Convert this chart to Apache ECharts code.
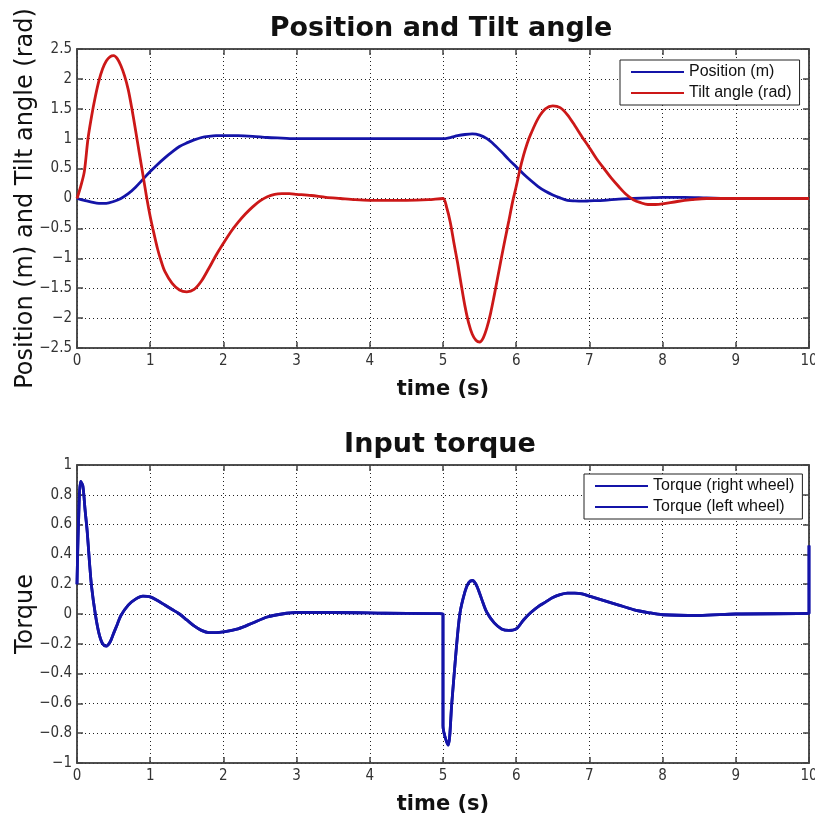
<!DOCTYPE html>
<html>
<head>
<meta charset="utf-8">
<script src="https://cdn.jsdelivr.net/npm/echarts@6/dist/echarts.min.js"></script>
<style>html,body{margin:0;padding:0;background:#fff;overflow:hidden}#c{width:815px;height:820px}</style>
</head>
<body>
<div id="c"></div>
<script>
// ---- data (time in s, value) ----
const xTicks = [0,1,2,3,4,5,6,7,8,9,10];
const position = [
[0,0],[0.1,-0.03],[0.2,-0.06],[0.3,-0.08],[0.4,-0.08],[0.5,-0.05],[0.6,0.0],[0.7,0.08],[0.8,0.19],[0.9,0.32],
[1.0,0.45],[1.1,0.57],[1.2,0.68],[1.3,0.78],[1.4,0.87],[1.5,0.93],[1.6,0.98],[1.7,1.02],[1.8,1.04],[1.9,1.05],
[2.0,1.05],[2.2,1.05],[2.4,1.04],[2.6,1.02],[2.8,1.01],[3.0,1.0],[4.0,1.0],[5.0,1.0],[5.1,1.02],[5.2,1.05],
[5.3,1.07],[5.4,1.08],[5.5,1.06],[5.6,1.0],[5.7,0.9],[5.8,0.78],[5.9,0.65],[6.0,0.53],[6.1,0.41],[6.2,0.3],
[6.3,0.2],[6.4,0.12],[6.5,0.06],[6.6,0.01],[6.7,-0.03],[6.8,-0.04],[6.9,-0.045],[7.0,-0.04],[7.2,-0.03],[7.4,-0.01],
[7.6,0.0],[7.8,0.01],[8.0,0.02],[8.3,0.02],[8.6,0.01],[9.0,0.0],[10,0]
];
const tilt = [
[0,0],[0.05,0.2],[0.1,0.45],[0.15,1.0],[0.2,1.38],[0.25,1.7],[0.3,1.97],[0.35,2.17],[0.4,2.3],[0.45,2.37],
[0.5,2.39],[0.55,2.34],[0.6,2.22],[0.65,2.05],[0.7,1.82],[0.75,1.5],[0.8,1.14],[0.85,0.77],[0.9,0.4],[0.95,0.03],
[1.0,-0.3],[1.05,-0.58],[1.1,-0.84],[1.15,-1.05],[1.2,-1.22],[1.3,-1.42],[1.4,-1.53],[1.5,-1.56],[1.6,-1.52],[1.7,-1.38],
[1.8,-1.17],[1.9,-0.95],[2.0,-0.75],[2.1,-0.56],[2.2,-0.4],[2.3,-0.26],[2.4,-0.14],[2.5,-0.04],[2.6,0.03],[2.7,0.07],
[2.8,0.08],[2.9,0.08],[3.0,0.07],[3.2,0.05],[3.4,0.02],[3.6,0.0],[3.8,-0.02],[4.0,-0.03],[4.5,-0.03],[4.8,-0.02],
[5.0,0],[5.05,-0.15],[5.1,-0.4],[5.15,-0.75],[5.2,-1.08],[5.25,-1.45],[5.3,-1.8],[5.35,-2.08],[5.4,-2.27],[5.45,-2.37],
[5.5,-2.4],[5.55,-2.33],[5.6,-2.16],[5.65,-1.92],[5.7,-1.62],[5.75,-1.3],[5.8,-0.98],[5.85,-0.67],[5.9,-0.37],[5.95,-0.06],
[6.0,0.2],[6.05,0.48],[6.1,0.72],[6.15,0.92],[6.2,1.08],[6.3,1.34],[6.4,1.5],[6.5,1.55],[6.6,1.52],[6.7,1.4],
[6.8,1.22],[6.9,1.03],[7.0,0.85],[7.1,0.66],[7.2,0.5],[7.3,0.34],[7.4,0.2],[7.5,0.07],[7.6,-0.02],[7.7,-0.07],
[7.8,-0.1],[7.9,-0.1],[8.0,-0.09],[8.2,-0.05],[8.4,-0.02],[8.6,0],[9,0],[10,0]
];
const torqueRight = [
[0,0.2],[0.02,0.6],[0.05,0.89],[0.08,0.86],[0.11,0.7],[0.14,0.55],[0.17,0.35],[0.2,0.18],[0.25,0.0],[0.3,-0.13],
[0.35,-0.2],[0.4,-0.215],[0.45,-0.19],[0.5,-0.13],[0.55,-0.07],[0.6,-0.01],[0.7,0.06],[0.8,0.1],[0.9,0.12],[1.0,0.115],
[1.1,0.09],[1.2,0.06],[1.3,0.03],[1.4,0.0],[1.5,-0.04],[1.6,-0.08],[1.7,-0.11],[1.8,-0.125],[1.9,-0.125],[2.0,-0.12],
[2.2,-0.1],[2.4,-0.06],[2.6,-0.02],[2.8,0.0],[3.0,0.01],[3.5,0.01],[4.2,0.005],[5.0,0.0],[5.0,-0.75],[5.07,-0.88],
[5.12,-0.6],[5.17,-0.3],[5.23,0.0],[5.3,0.15],[5.35,0.21],[5.4,0.225],[5.45,0.2],[5.5,0.14],[5.55,0.07],[5.6,0.01],
[5.7,-0.06],[5.8,-0.1],[5.9,-0.11],[6.0,-0.1],[6.1,-0.04],[6.2,0.01],[6.3,0.05],[6.4,0.08],[6.5,0.11],[6.6,0.13],
[6.7,0.14],[6.8,0.14],[6.9,0.135],[7.0,0.12],[7.2,0.09],[7.4,0.06],[7.6,0.03],[7.8,0.01],[8.0,-0.005],[8.5,-0.01],
[9.0,0.0],[10.0,0.005],[10.0,0.46]
];
const torqueLeft = torqueRight.map(p => p.slice());

// ---- styles ----
const BLUE = '#1414a8', RED = '#cc1818', AX = '#444';
const tickFont = "'Liberation Sans Narrow','DejaVu Sans Condensed','Liberation Sans',sans-serif";
const fmt = v => String(Math.round(v*10)/10).replace('-', '\u2212');

function xAx(gi) {
  return [{
    gridIndex: gi, type: 'value', min: 0, max: 10, interval: 1, position: 'bottom',
    name: 'time (s)', nameLocation: 'middle', nameGap: 31, nameMoveOverlap: false,
    nameTextStyle: {fontSize: 21, fontWeight: 'bold', color: '#111', fontFamily: "'DejaVu Sans',sans-serif"},
    axisLine: {onZero: false, lineStyle: {color: AX, width: 1.5}},
    axisTick: {inside: true, length: 6, lineStyle: {color: AX, width: 1.5}},
    axisLabel: {fontSize: 15, color: '#333', fontFamily: tickFont, margin: 6},
    splitLine: {show: true, lineStyle: {color: '#222', width: 1, type: [1, 3]}}
  }, {
    gridIndex: gi, type: 'value', min: 0, max: 10, interval: 1, position: 'top',
    axisLine: {onZero: false, lineStyle: {color: AX, width: 1.5}},
    axisTick: {inside: true, length: 6, lineStyle: {color: AX, width: 1.5}},
    axisLabel: {show: false}, splitLine: {show: false}
  }];
}
function yAx(gi, min, max, interval, name, gap) {
  return [{
    gridIndex: gi, type: 'value', min, max, interval, position: 'left',
    name, nameLocation: 'middle', nameGap: gap, nameMoveOverlap: false,
    nameTextStyle: {fontSize: 24, color: '#111', fontFamily: "'DejaVu Sans',sans-serif"},
    axisLine: {show: true, onZero: false, lineStyle: {color: AX, width: 1.5}},
    axisTick: {show: true, inside: true, length: 6, lineStyle: {color: AX, width: 1.5}},
    axisLabel: {fontSize: 15, color: '#333', fontFamily: tickFont, margin: 5, formatter: fmt},
    splitLine: {show: true, lineStyle: {color: '#222', width: 1, type: [1, 3]}}
  }, {
    gridIndex: gi, type: 'value', min, max, interval, position: 'right',
    axisLine: {show: true, onZero: false, lineStyle: {color: AX, width: 1.5}},
    axisTick: {show: true, inside: true, length: 6, lineStyle: {color: AX, width: 1.5}},
    axisLabel: {show: false}, splitLine: {show: false}
  }];
}
const legendCommon = {
  orient: 'vertical', backgroundColor: '#fff', borderColor: '#222', borderWidth: 1,
  itemWidth: 53, itemHeight: 14, itemGap: 5, padding: [4, 8, 4, 10],
  itemStyle: {opacity: 0},
  textStyle: {fontSize: 16, lineHeight: 16, color: '#111', fontFamily: "'Liberation Sans',sans-serif", padding: [0,0,0,0]}
};
function line(name, data, color, xi, yi) {
  return {name, type: 'line', data, xAxisIndex: xi, yAxisIndex: yi, symbol: 'none',
    smooth: 0.3, lineStyle: {color, width: 2.8}, itemStyle: {color}, z: 3, animation: false};
}

const chart = echarts.init(document.getElementById('c'), null, {renderer: 'canvas'});
chart.setOption({
  animation: false,
  backgroundColor: '#fff',
  title: [
    {text: 'Position and Tilt angle', left: 436, top: 10, textAlign: 'center',
     textStyle: {fontSize: 27, fontWeight: 'bold', color: '#111', fontFamily: "'DejaVu Sans',sans-serif"}},
    {text: 'Input torque', left: 435, top: 426, textAlign: 'center',
     textStyle: {fontSize: 27, fontWeight: 'bold', color: '#111', fontFamily: "'DejaVu Sans',sans-serif"}}
  ],
  grid: [
    {left: 77, top: 49, width: 732, height: 299, show: true, borderColor: AX, borderWidth: 1.5,
     backgroundColor: '#fff', outerBoundsMode: 'none', containLabel: false},
    {left: 77, top: 465, width: 732, height: 298, show: true, borderColor: AX, borderWidth: 1.5,
     backgroundColor: '#fff', outerBoundsMode: 'none', containLabel: false}
  ],
  legend: [
    Object.assign({}, legendCommon, {left: 620, top: 60, data: ['Position (m)', 'Tilt angle (rad)']}),
    Object.assign({}, legendCommon, {left: 584, top: 474, data: ['Torque (right wheel)', 'Torque (left wheel)']})
  ],
  xAxis: [...xAx(0), ...xAx(1)],
  yAxis: [...yAx(0, -2.5, 2.5, 0.5, 'Position (m) and Tilt angle (rad)', 39),
          ...yAx(1, -1, 1, 0.2, 'Torque', 39)],
  series: [
    line('Position (m)', position, BLUE, 0, 0),
    line('Tilt angle (rad)', tilt, RED, 0, 0),
    line('Torque (right wheel)', torqueRight, BLUE, 2, 2),
    line('Torque (left wheel)', torqueLeft, BLUE, 2, 2)
  ]
});
</script>
</body>
</html>
